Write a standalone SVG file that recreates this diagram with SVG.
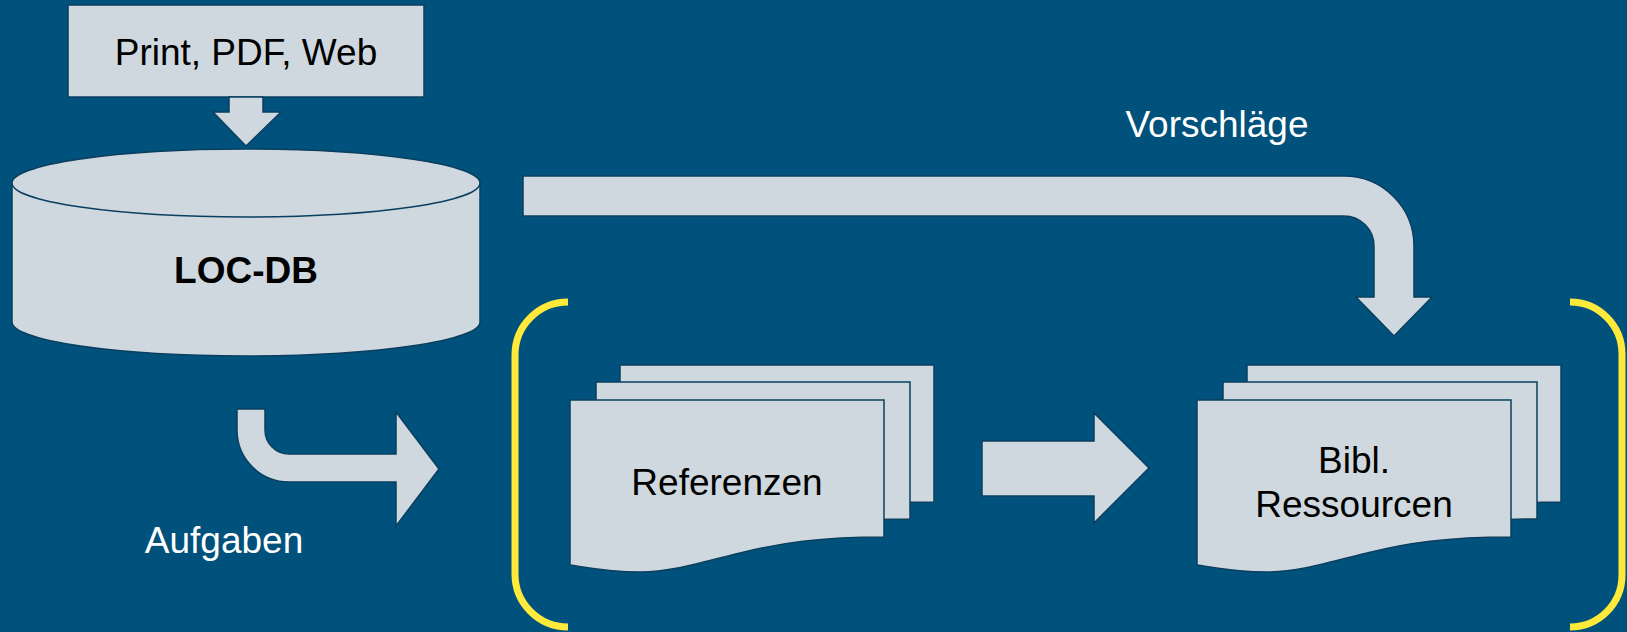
<svg xmlns="http://www.w3.org/2000/svg" xmlns:xlink="http://www.w3.org/1999/xlink" width="1627" height="632" viewBox="0 0 1627 632">
<style>
.shape{fill:#CFD8DE;stroke:#0A3F60;stroke-width:1.5;stroke-linejoin:miter}
.lbl{font-family:"Liberation Sans",Arial,sans-serif;font-size:37px;fill:#000;text-anchor:middle}
.wlbl{font-family:"Liberation Sans",Arial,sans-serif;font-size:37px;fill:#FFFFFF;text-anchor:middle}
.bracket{fill:none;stroke:#FFE93B;stroke-width:7}
</style>
<defs>
<path id="doc" d="M0,0 H314 V137 C250,137 210,143 170,153 C130,163 100,172 70,172 C40,172 20,168 0,165 Z"/>
</defs>
<rect x="0" y="0" width="1627" height="632" fill="#00517B"/>

<g id="brackets">
<path class="bracket" d="M568,302 A53,53 0 0 0 515,355 V574 A53,53 0 0 0 568,627"/>
<path class="bracket" d="M1570,302 A52,52 0 0 1 1622,354 V575 A52,52 0 0 1 1570,627"/>
</g>

<g id="source">
<rect class="shape" x="68" y="5" width="356" height="92"/>
<text class="lbl" x="246" y="65">Print, PDF, Web</text>
</g>

<g id="locdb">
<path class="shape" d="M12,183 V322 A234,34 0 0 0 480,322 V183"/>
<ellipse class="shape" cx="246" cy="183" rx="234" ry="34"/>
<text class="lbl" x="246" y="283" font-weight="bold">LOC-DB</text>
</g>

<g id="referenzen">
<use xlink:href="#doc" class="shape" transform="translate(620,365)"/>
<use xlink:href="#doc" class="shape" transform="translate(596,382)"/>
<use xlink:href="#doc" class="shape" transform="translate(570,400)"/>
<text class="lbl" x="727" y="495">Referenzen</text>
</g>

<g id="ressourcen">
<use xlink:href="#doc" class="shape" transform="translate(1247,365)"/>
<use xlink:href="#doc" class="shape" transform="translate(1223,382)"/>
<use xlink:href="#doc" class="shape" transform="translate(1197,400)"/>
<text class="lbl" x="1354" y="473">Bibl.</text>
<text class="lbl" x="1354" y="517">Ressourcen</text>
</g>

<g id="connectors">
<path class="shape" d="M229,97 H263 V112 H281 L246,146 L213,112 H229 Z"/>
<path class="shape" d="M237,409 H265 V430 A24,24 0 0 0 289,454 H396 V412 L439,469 L396,526 V482 H289 A52,52 0 0 1 237,430 Z"/>
<path class="shape" d="M982,441 H1094 V413 L1149,468 L1094,523 V496 H982 Z"/>
<path class="shape" d="M523,176 H1344 A70,70 0 0 1 1414,246 V297 H1432 L1394,336 L1356,297 H1374 V246 A30,30 0 0 0 1344,216 H523 Z"/>
<text class="wlbl" x="224" y="553">Aufgaben</text>
<text class="wlbl" x="1217" y="137">Vorschläge</text>
</g>
</svg>
